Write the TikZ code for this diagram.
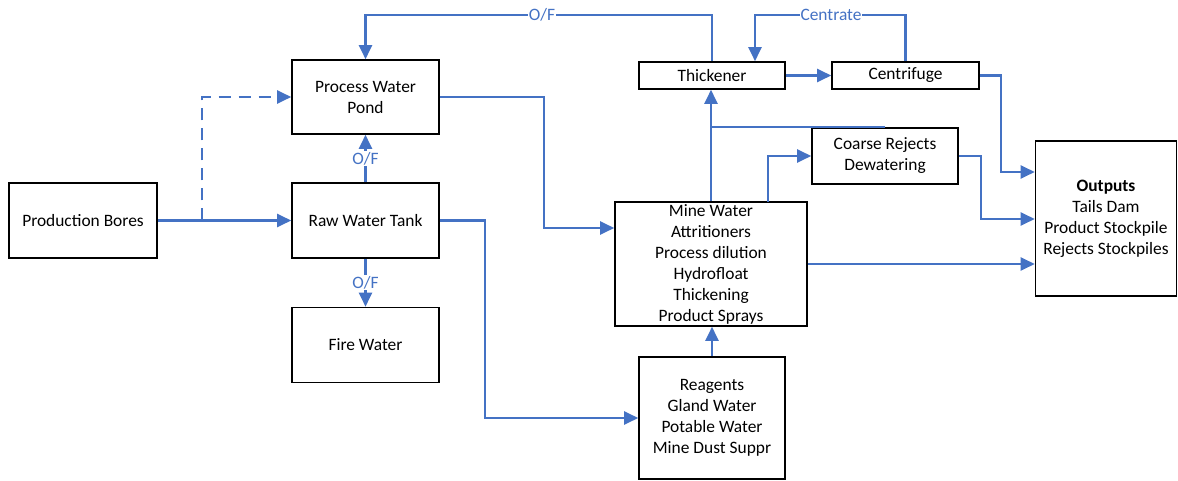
\documentclass[tikz,border=0pt]{standalone}
\usepackage{fontspec}
\setmainfont{Carlito}
\usetikzlibrary{arrows.meta,calc}
\definecolor{flowblue}{HTML}{4472C4}
\begin{document}
\begin{tikzpicture}[x=1pt,y=-1pt,
  box/.style={draw=black,line width=1.6pt,fill=white,align=center,inner sep=0pt,
    font=\fontsize{17.4}{21}\selectfont},
  flow/.style={draw=flowblue,line width=2.2pt,-{Triangle[length=14pt,width=13pt]}},
  flowline/.style={draw=flowblue,line width=2.2pt},
  lab/.style={text=flowblue,fill=white,inner sep=1pt,font=\fontsize{17.4}{21}\selectfont}]
\useasboundingbox (0,0) rectangle (1178,481);

\node[box,minimum width=148pt,minimum height=75pt] (prod) at (83,220.5) {Production Bores};
\node[box,minimum width=147pt,minimum height=74pt] (pond) at (365.5,97) {Process Water\\Pond};
\node[box,minimum width=147pt,minimum height=75pt] (raw) at (365.5,220.5) {Raw Water Tank};
\node[box,minimum width=147pt,minimum height=75pt] (fire) at (365.5,345) {Fire Water};
\node[box,minimum width=146pt,minimum height=27pt] (thick) at (712,75.5) {Thickener};
\node[box,minimum width=147pt,minimum height=27pt] (centri) at (905.5,75.5) {Centrifuge};
\node[box,minimum width=146pt,minimum height=56pt] (coarse) at (885,156) {Coarse Rejects\\Dewatering};
\node[box,minimum width=192pt,minimum height=124pt] (mine) at (711,264) {Mine Water\\Attritioners\\Process dilution\\Hydrofloat\\Thickening\\Product Sprays};
\node[box,minimum width=146pt,minimum height=122pt] (reag) at (712,418) {Reagents\\Gland Water\\Potable Water\\Mine Dust Suppr};
\node[box,minimum width=141pt,minimum height=155pt] (out) at (1106,218.5) {\textbf{Outputs}\\Tails Dam\\Product Stockpile\\Rejects Stockpiles};

\coordinate (dsplit) at (202,220.5);
\coordinate (top) at (0,15);
\coordinate (c755) at (755,0);
\coordinate (m228) at (0,228);
\coordinate (o172) at (0,172);
\coordinate (o219) at (0,219);
\coordinate (mc) at (768,202);

% production bores
\draw[flow] (prod.east) -- (raw.west);
\draw[flow,dashed,dash pattern=on 12pt off 8pt] (dsplit) |- (pond.west);
% overflows
\draw[flow] (raw.north) -- node[lab] (of1) {O/F} (pond.south);
\draw[flow] (raw.south) -- node[lab] (of2) {O/F} (fire.north);
% pond to mine water
\draw[flow] (pond.east) -- (544,97) |- (mine.west |- m228);
% raw tank to reagents
\draw[flow] (raw.east) -- (485,220.5) |- (reag.west);
% reagents to mine water
\draw[flow] (reag.north) -- (reag.north |- mine.south);
% mine water to thickener
\draw[flow] (mine.north) -- (mine.north |- thick.south);
\draw[flowline] (coarse.north) -- (coarse.north -| mine.north);
% mine water to coarse rejects
\draw[flow] (mc) |- (coarse.west);
% to outputs
\draw[flow] (coarse.east) -- (981,156) |- (out.west |- o219);
\draw[flow] (centri.east) -- (1001,75.5) |- (out.west |- o172);
\draw[flow] (mine.east) -- (out.west |- mine.east);
% thickener to centrifuge
\draw[flow] (thick.east) -- (centri.west);
% thickener overflow to pond
\draw[flow] (thick.north) -- (thick.north |- top) -- (pond.north |- top) -- (pond.north);
\node[lab] (of3) at (542,15) {O/F};
% centrate
\draw[flow] (centri.north) -- (centri.north |- top) -- (c755 |- top) -- (c755 |- thick.north);
\node[lab] (cent) at (831,15) {Centrate};
\end{tikzpicture}
\end{document}
